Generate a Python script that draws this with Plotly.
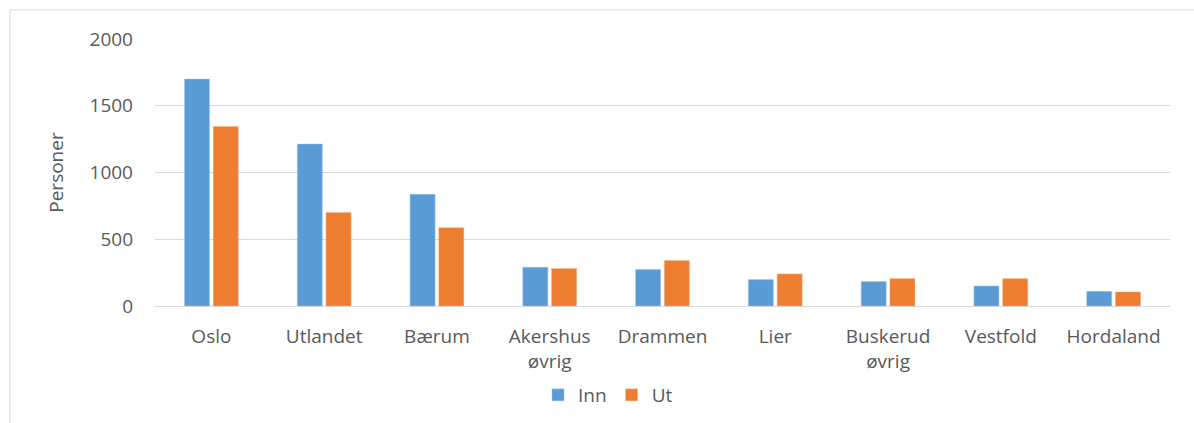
import plotly.graph_objects as go

categories = ["Oslo", "Utlandet", "Bærum", "Akershus<br>øvrig", "Drammen", "Lier",
              "Buskerud<br>øvrig", "Vestfold", "Hordaland"]
inn = [1700, 1213, 837, 291, 273, 198, 183, 150, 110]
ut = [1345, 701, 586, 280, 340, 240, 205, 205, 105]
y_ticks = [0, 500, 1000, 1500, 2000]

font_family = "Open Sans, Liberation Sans, sans-serif"
txt = "#595959"

fig = go.Figure()
fig.add_trace(go.Bar(name="Inn", x=categories, y=inn, marker=dict(color="#5b9bd5", line=dict(color="#9dc3e6", width=0.5))))
fig.add_trace(go.Bar(name="Ut", x=categories, y=ut, marker=dict(color="#ed7d31", line=dict(color="#f4b183", width=0.5))))

L, R, T, B = 155, 24, 39, 117
W, H = 1194, 423
pw = W - L - R
ph = H - T - B

fig.update_layout(
    width=W, height=H,
    margin=dict(l=L, r=R, t=T, b=B, autoexpand=False),
    paper_bgcolor="white", plot_bgcolor="white",
    barmode="group", bargap=0.49, bargroupgap=0.13,
    font=dict(family=font_family, size=19, color=txt),
    showlegend=True,
    legend=dict(orientation="h", x=(608 - L) / pw, xanchor="center",
                y=-(395 - (H - B)) / ph, yanchor="middle",
                font=dict(size=19, color=txt), traceorder="normal"),
    xaxis=dict(tickfont=dict(size=19, color=txt), showgrid=False, showline=False, ticks="",
               ticklabelstandoff=17, automargin=False),
    yaxis=dict(range=[0, 2000], tickvals=y_ticks, tickfont=dict(size=19, color=txt),
               showgrid=True, gridcolor="#d9d9d9", gridwidth=1, zeroline=True,
               zerolinecolor="#d9d9d9", zerolinewidth=1, ticks="", ticklen=0,
               ticklabelstandoff=21, automargin=False,
               title=dict(text="Personer", font=dict(size=19, color=txt), standoff=20)),
    shapes=[
        dict(type="line", xref="paper", yref="paper", x0=(10 - L) / pw, x1=(10 - L) / pw,
             y0=1 + (T - 10) / ph, y1=-(B + 5) / ph, line=dict(color="#d9d9d9", width=1)),
        dict(type="line", xref="paper", yref="paper", x0=(10 - L) / pw, x1=(W + 5 - L) / pw,
             y0=1 + (T - 10) / ph, y1=1 + (T - 10) / ph, line=dict(color="#d9d9d9", width=1)),
    ],
)

fig.write_html("out.html", config={"displayModeBar": False})
with open("out.html", encoding="utf-8") as f:
    html = f.read()
html = html.replace("<body>", '<body style="margin:0">', 1)
with open("out.html", "w", encoding="utf-8") as f:
    f.write(html)
